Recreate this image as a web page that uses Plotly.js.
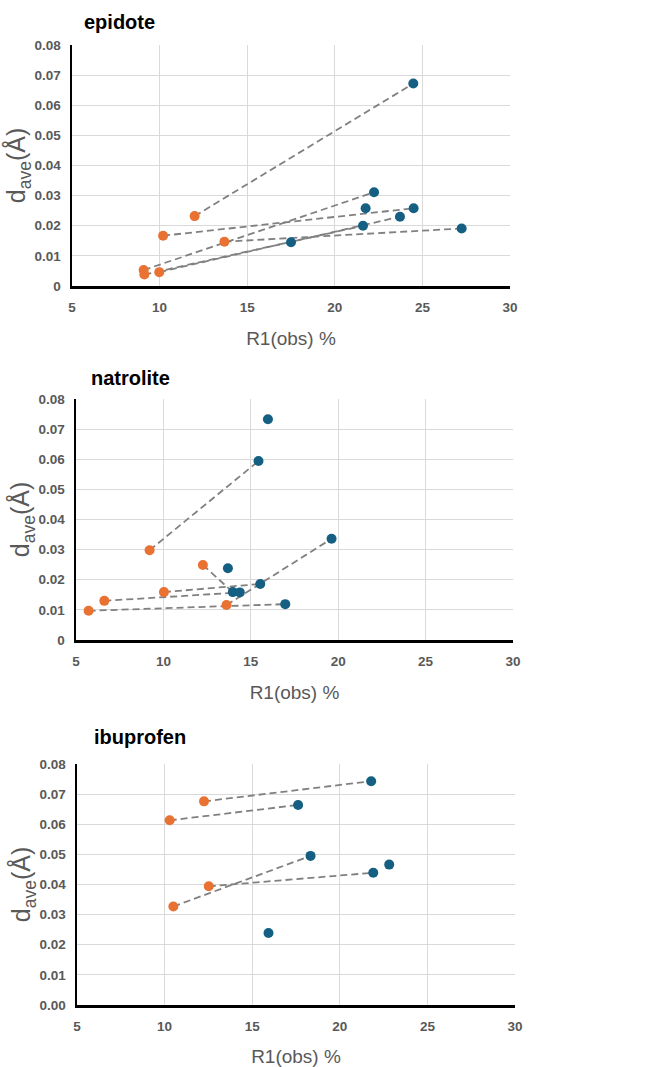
<!DOCTYPE html>
<html>
<head>
<meta charset="utf-8">
<script src="https://cdn.plot.ly/plotly-3.0.1.min.js"></script>
<style>html,body{margin:0;padding:0;background:#fff}#chart{width:657px;height:1067px}</style>
</head>
<body>
<div id="chart"></div>
<script>
// ---- data ----
const panelNames = ["epidote", "natrolite", "ibuprofen"];

const epidoteOrangeX = [12.0, 10.2, 13.7, 9.09, 9.13, 9.98];
const epidoteOrangeY = [0.0232, 0.0167, 0.0147, 0.0053, 0.0038, 0.0046];
const epidoteBlueX = [24.48, 22.24, 21.76, 24.5, 23.72, 21.61, 17.5, 27.24];
const epidoteBlueY = [0.0672, 0.0311, 0.0258, 0.0258, 0.0230, 0.0200, 0.0145, 0.0191];
const epidoteLinks = [[0, 0], [3, 1], [1, 3], [2, 7], [4, 5], [5, 4]];

const natroliteOrangeX = [9.21, 12.26, 10.03, 6.62, 5.72, 13.61];
const natroliteOrangeY = [0.0298, 0.0249, 0.0159, 0.0130, 0.0097, 0.0116];
const natroliteBlueX = [15.98, 15.44, 19.62, 13.69, 15.54, 13.97, 14.37, 16.97];
const natroliteBlueY = [0.0733, 0.0594, 0.0336, 0.0238, 0.0186, 0.0159, 0.0158, 0.0119];
const natroliteLinks = [[0, 1], [1, 5], [2, 4], [3, 6], [4, 7], [5, 2]];

const ibuprofenOrangeX = [12.25, 10.29, 12.52, 10.50];
const ibuprofenOrangeY = [0.0676, 0.0613, 0.0394, 0.0327];
const ibuprofenBlueX = [21.79, 17.62, 18.33, 22.82, 21.91, 15.93];
const ibuprofenBlueY = [0.0743, 0.0664, 0.0495, 0.0466, 0.0439, 0.0239];
const ibuprofenLinks = [[0, 0], [1, 1], [3, 2], [2, 4]];

const xTickVals = [5, 10, 15, 20, 25, 30];
const yTickVals = [0, 0.01, 0.02, 0.03, 0.04, 0.05, 0.06, 0.07, 0.08];
const yTickTextA = ["0", "0.01", "0.02", "0.03", "0.04", "0.05", "0.06", "0.07", "0.08"];
const yTickTextB = ["0.00", "0.01", "0.02", "0.03", "0.04", "0.05", "0.06", "0.07", "0.08"];

// ---- styling ----
const W = 657, H = 1067;
const ORANGE = "#E97132", BLUE = "#156082";
const FONT = "Liberation Sans, Arial, sans-serif";
const panels = [
  {ox: epidoteOrangeX, oy: epidoteOrangeY, bx: epidoteBlueX, by: epidoteBlueY, links: epidoteLinks, ytext: yTickTextA,
   box: [72, 510, 45, 286]},
  {ox: natroliteOrangeX, oy: natroliteOrangeY, bx: natroliteBlueX, by: natroliteBlueY, links: natroliteLinks, ytext: yTickTextA,
   box: [76, 513, 399, 640]},
  {ox: ibuprofenOrangeX, oy: ibuprofenOrangeY, bx: ibuprofenBlueX, by: ibuprofenBlueY, links: ibuprofenLinks, ytext: yTickTextB,
   box: [77, 515, 764, 1005]}
];
const titlePos = [[82, 22], [89, 378], [92, 737]];

const traces = [];
const layout = {
  width: W, height: H,
  margin: {l: 0, r: 0, t: 0, b: 0},
  paper_bgcolor: "#fff", plot_bgcolor: "#fff",
  showlegend: false,
  font: {family: FONT},
  annotations: []
};

panels.forEach((p, i) => {
  const n = i === 0 ? "" : String(i + 1);
  const xa = "x" + n, ya = "y" + n;
  p.links.forEach(([o, b]) => {
    traces.push({
      type: "scatter", mode: "lines", xaxis: xa, yaxis: ya,
      x: [p.ox[o], p.bx[b]], y: [p.oy[o], p.by[b]],
      line: {color: "#808080", width: 1.8, dash: "7px,4px"}, hoverinfo: "skip"
    });
  });
  traces.push({type: "scatter", mode: "markers", xaxis: xa, yaxis: ya, x: p.bx, y: p.by,
    marker: {color: BLUE, size: 10}});
  traces.push({type: "scatter", mode: "markers", xaxis: xa, yaxis: ya, x: p.ox, y: p.oy,
    marker: {color: ORANGE, size: 10}});

  const [l, r, t, b] = p.box;
  layout["xaxis" + n] = {
    domain: [l / W, r / W], anchor: ya, range: [5, 30],
    tickvals: xTickVals, ticktext: xTickVals.map(String),
    showgrid: true, gridcolor: "#d9d9d9", gridwidth: 1,
    showline: true, linecolor: "#000", linewidth: 2.5, zeroline: false,
    ticks: "", ticklabelstandoff: 7,
    tickfont: {family: FONT, size: 13.5, color: "#595959", weight: "bold"},
    title: {text: "R1(obs) %", font: {family: FONT, size: 19, color: "#595959"}, standoff: 18},
    automargin: false
  };
  layout["yaxis" + n] = {
    domain: [1 - b / H, 1 - t / H], anchor: xa, range: [0, 0.08],
    tickvals: yTickVals, ticktext: p.ytext,
    showgrid: true, gridcolor: "#d9d9d9", gridwidth: 1,
    showline: true, linecolor: "#000", linewidth: 2.5, zeroline: false,
    ticks: "", ticklabelstandoff: 6,
    tickfont: {family: FONT, size: 13.5, color: "#595959", weight: "bold"},
    title: {text: "d<sub>ave</sub>(Å)", font: {family: FONT, size: 25, color: "#595959"}, standoff: 0},
    automargin: false
  };
  layout.annotations.push({
    text: "<b>" + panelNames[i] + "</b>", xref: "paper", yref: "paper",
    x: titlePos[i][0] / W, y: 1 - titlePos[i][1] / H, xanchor: "left", yanchor: "middle",
    showarrow: false, font: {family: FONT, size: 20, color: "#000"}
  });
});

Plotly.newPlot("chart", traces, layout, {staticPlot: true});
</script>
</body>
</html>
